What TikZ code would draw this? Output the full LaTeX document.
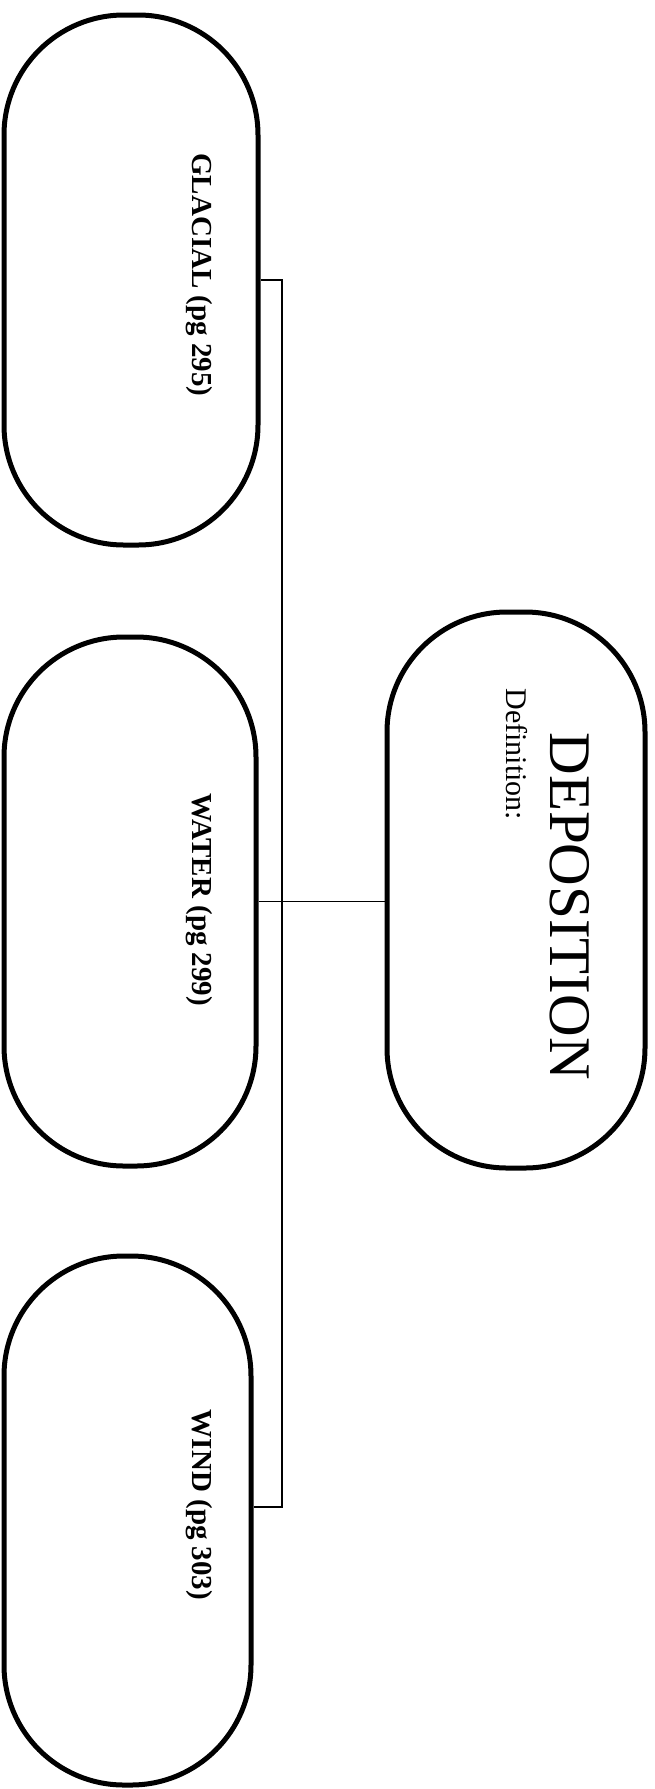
\documentclass[tikz,border=0pt]{standalone}
\usepackage{fontspec}
\setmainfont{Liberation Serif}
\begin{document}
\begin{tikzpicture}[x=0.5pt,y=-0.5pt,
  oval/.style={draw=black,line width=2.5pt,rounded corners=60pt,inner sep=0pt,fill=none},
  lbl/.style={rotate=-90,inner sep=0pt,font=\fontsize{14.5}{17}\selectfont\bfseries},
  link/.style={draw=black,line width=0.8pt}]
\fill[white] (0,0) rectangle (654,1789);
\useasboundingbox (0,0) rectangle (654,1789);
% ovals
\node[oval,minimum width=127pt,minimum height=265pt] (glacial) at (131,280) {};
\node[oval,minimum width=126pt,minimum height=264.5pt] (water) at (130,901.5) {};
\node[oval,minimum width=123.5pt,minimum height=264.5pt] (wind) at (127.5,1520.5) {};
\node[oval,minimum width=129pt,minimum height=278pt] (deposition) at (516,890) {};
% labels
\node[lbl,anchor=base] (glaciallbl) at (192,275) {GLACIAL (pg 295)};
\node[lbl,anchor=base] (waterlbl) at (192,900) {WATER (pg 299)};
\node[lbl,anchor=base] (windlbl) at (192,1505) {WIND (pg 303)};
\node[rotate=-90,inner sep=0pt,anchor=base west,font=\fontsize{29.5}{34}\selectfont] (title) at (550,732) {DEPOSITION};
\node[rotate=-90,inner sep=0pt,anchor=base west,font=\fontsize{15}{18}\selectfont] (deflbl) at (506,688) {Definition:};
% connectors
\coordinate (jg) at (282,280);
\coordinate (jw) at (282,1507);
\draw[link] (glacial.east |- jg) -- (jg) -- (jw) -- (wind.east |- jw);
\draw[link] (water.east) -- (deposition.west |- water.east);
\end{tikzpicture}
\end{document}
